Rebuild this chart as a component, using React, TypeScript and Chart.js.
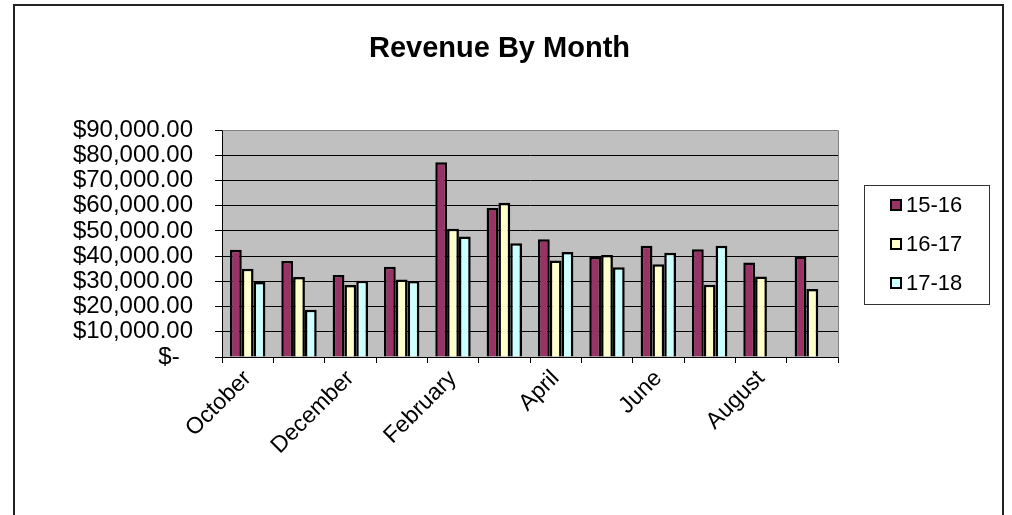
import React, { useEffect, useRef } from "react";
import { Chart, registerables } from "chart.js";

Chart.register(...registerables);

const months = [
  "October", "November", "December", "January", "February", "March",
  "April", "May", "June", "July", "August", "September",
];
const series1516 = [42500, 38100, 32500, 35800, 77200, 59100, 46700, 39600, 44100, 42700, 37500, 39800];
const series1617 = [35000, 31700, 28500, 30700, 50800, 61200, 38300, 40400, 36800, 28600, 31900, 27000];
const series1718 = [29700, 18700, 30200, 30100, 47800, 45100, 41600, 35600, 41300, 44100, null, null];
const seriesNames = ["15-16", "16-17", "17-18"];
const seriesColors = ["#993366", "#FFFFCC", "#CCFFFF"];
const yMin = 0;
const yMax = 90000;
const yStep = 10000;
const chartTitle = "Revenue By Month";

const FONT = "'Liberation Sans', Arial, sans-serif";

function fmtMoney(v: number): string {
  if (v === 0) return "$-  ";
  return "$" + v.toLocaleString("en-US", { minimumFractionDigits: 2, maximumFractionDigits: 2 });
}

export default function App() {
  const ref = useRef<HTMLCanvasElement>(null);

  useEffect(() => {
    const canvas = ref.current;
    if (!canvas) return;

    const decor = {
      id: "decor",
      beforeDraw(chart: any) {
        const { ctx, chartArea: a } = chart;
        ctx.save();
        ctx.fillStyle = "#ffffff";
        ctx.fillRect(0, 0, chart.width, chart.height);
        ctx.fillStyle = "#C0C0C0";
        ctx.fillRect(a.left, a.top, a.right - a.left, a.bottom - a.top);
        ctx.restore();
      },
      afterDraw(chart: any) {
        const { ctx, chartArea: a } = chart;
        ctx.save();
        // plot area top / right border
        ctx.strokeStyle = "#808080";
        ctx.lineWidth = 1;
        ctx.beginPath();
        ctx.moveTo(Math.round(a.left) + 0.5, Math.round(a.top) + 0.5);
        ctx.lineTo(Math.round(a.right) + 0.5, Math.round(a.top) + 0.5);
        ctx.lineTo(Math.round(a.right) + 0.5, Math.round(a.bottom) + 0.5);
        ctx.stroke();

        // outer chart border
        ctx.strokeStyle = "#222222";
        ctx.lineWidth = 2;
        ctx.strokeRect(14, 5, 989, 600);

        // legend
        const lx = 864.5, ly = 185.5, lw = 125, lh = 119;
        ctx.fillStyle = "#ffffff";
        ctx.fillRect(lx, ly, lw, lh);
        ctx.strokeStyle = "#333333";
        ctx.lineWidth = 1;
        ctx.strokeRect(lx, ly, lw, lh);
        chart.data.datasets.forEach((ds: any, i: number) => {
          const cy = 205 + i * 39;
          ctx.fillStyle = ds.backgroundColor;
          ctx.fillRect(890, cy - 6, 12, 12);
          ctx.strokeStyle = "#000000";
          ctx.lineWidth = 2;
          ctx.strokeRect(891, cy - 5, 10, 10);
          ctx.fillStyle = "#000000";
          ctx.font = `22px ${FONT}`;
          ctx.textBaseline = "middle";
          ctx.textAlign = "left";
          ctx.fillText(ds.label, 906, cy + 1);
        });
        ctx.restore();
      },
    };

    const chart = new Chart(canvas, {
      type: "bar",
      data: {
        labels: months,
        datasets: [series1516, series1617, series1718].map((d, i) => ({
          label: seriesNames[i],
          data: d,
          backgroundColor: seriesColors[i],
          borderColor: "#000000",
          borderWidth: 2.5,
          borderSkipped: "bottom",
          categoryPercentage: 0.69,
          barPercentage: 1,
        })),
      },
      options: {
        responsive: false,
        animation: false,
        layout: { padding: { left: 0, right: 13, top: 0, bottom: 0 } },
        plugins: {
          legend: { display: false },
          tooltip: { enabled: false },
          title: {
            display: true,
            text: chartTitle,
            color: "#000000",
            font: { family: FONT, size: 29, weight: "bold" },
            padding: { top: 32, bottom: 63.2 },
          },
        },
        scales: {
          x: {
            grid: {
              offset: true,
              drawOnChartArea: false,
              drawTicks: true,
              tickLength: 6,
              tickColor: "#000000",
            },
            border: { display: true, color: "#000000", width: 1 },
            ticks: {
              autoSkip: false,
              minRotation: 45,
              maxRotation: 45,
              padding: 2,
              color: "#000000",
              font: { family: FONT, size: 23 },
              callback: (_v: any, i: number) => (i % 2 === 0 ? months[i] : ""),
            },
            afterFit: (s: any) => {
              s.height = 158;
            },
          },
          y: {
            min: yMin,
            max: yMax,
            grid: {
              color: (c: any) => (c.tick && c.tick.value === yMax ? "#808080" : "#000000"),
              tickColor: "#000000",
              tickLength: 7,
              lineWidth: 1,
            },
            border: { display: true, color: "#000000", width: 1 },
            ticks: {
              stepSize: yStep,
              autoSkip: false,
              padding: 22,
              color: "#000000",
              font: { family: FONT, size: 24 },
              callback: (v: any) => fmtMoney(Number(v)),
            },
            afterFit: (s: any) => {
              s.width = 222;
            },
          },
          yRight: {
            position: "right",
            display: true,
            min: 0,
            max: 1,
            grid: { display: false },
            border: { display: false },
            ticks: { display: false },
            afterFit: (s: any) => {
              s.width = 1012 - 13 - 838;
            },
          },
        },
      },
      plugins: [decor],
    } as any);

    return () => chart.destroy();
  }, []);

  return (
    <div style={{ position: "absolute", left: 0, top: 0, width: 1012, height: 515, background: "#fff" }}>
      <canvas ref={ref} width={1012} height={515} style={{ display: "block" }} />
    </div>
  );
}
